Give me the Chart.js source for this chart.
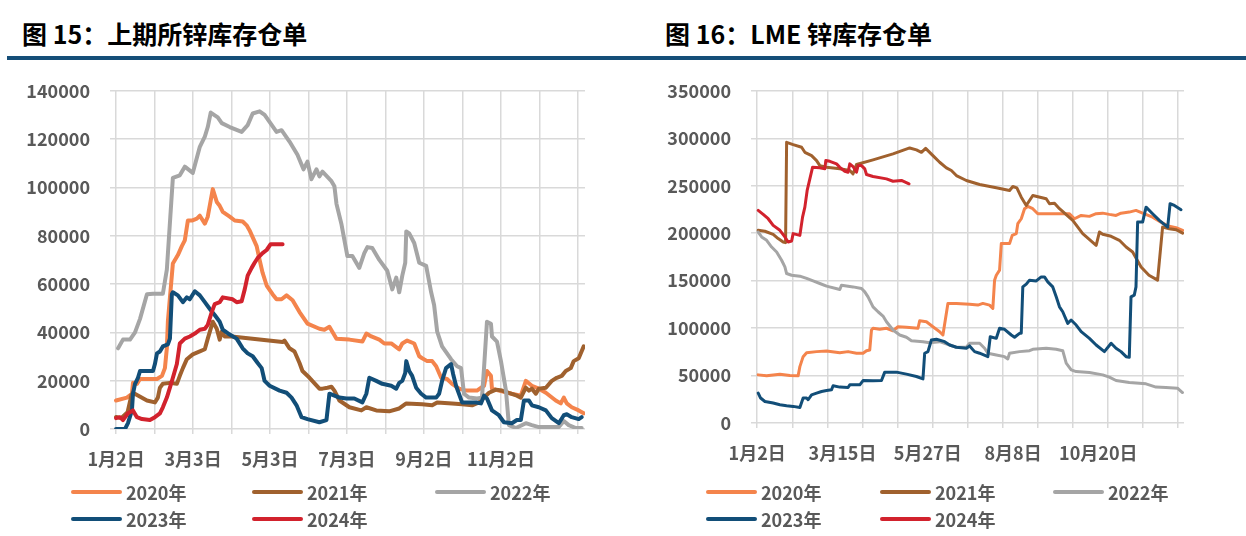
<!DOCTYPE html>
<html><head><meta charset="utf-8">
<script src="https://cdn.jsdelivr.net/npm/chart.js@4"></script>
<style>
body{margin:0;width:1246px;height:536px;background:#fff;position:relative;overflow:hidden;font-family:"Noto Sans CJK SC",sans-serif;}
.title{position:absolute;top:17px;font-size:25px;font-weight:700;color:#000;white-space:nowrap;line-height:32px}
.rule{position:absolute;left:7px;right:0;top:56px;height:4px;background:#154E78}
canvas{position:absolute}
.leg{position:absolute;display:flex;align-items:center;font-size:18px;font-weight:700;color:#595959;white-space:nowrap;line-height:24px;height:24px}
.leg i{display:inline-block;width:51px;height:4px;border-radius:2px;margin-right:4px}
</style></head>
<body>
<div class="title" style="left:22px">图 15：上期所锌库存仓单</div>
<div class="title" style="left:665px">图 16：LME 锌库存仓单</div>
<div class="rule"></div>
<canvas id="c1" width="620" height="420" style="left:0;top:60px"></canvas>
<canvas id="c2" width="626" height="420" style="left:620px;top:60px"></canvas>
<div id="legends"></div>
<script>
// ---------- data ----------
const seriesNames = ['2020年','2021年','2022年','2023年','2024年'];
const seriesColors = ['#F4844C','#A0612E','#A5A5A5','#124E78','#D2222D'];

// SHFE: x = days since 1月2日
const shfeGridDays = [0,30,60,90,120,150,180,210,240,270,300,330,360];
const shfeLabelDays = [0,60,120,180,240,300];
const shfeLabels = ['1月2日','3月3日','5月3日','7月3日','9月2日','11月2日'];
const shfe2020 = [[0,11800],[8.5,13000],[12.4,14600],[13.2,19100],[16.3,18700],[18.7,20700],[31.9,20700],[35.8,22000],[38.1,25200],[39.6,33400],[40.4,44400],[41.9,53700],[44.3,68500],[48.2,72000],[51.3,75700],[53.6,78100],[56,86300],[59.1,86300],[63,87100],[65.3,88300],[69.2,85000],[71.5,87900],[75.4,99300],[78.5,94000],[80.8,92400],[83.2,89900],[88.6,87900],[92.5,86300],[98.7,85900],[101.8,84300],[104.1,82200],[109.6,75700],[111.9,70000],[114.2,64700],[117.4,59400],[122,55800],[125.1,53700],[129,53700],[132.9,55300],[137.6,53300],[143,48400],[149.2,43600],[158.5,41500],[162.4,41100],[166.3,42300],[171.8,37400],[181.9,37000],[192,36200],[195.1,39500],[199,38300],[205.2,37000],[209.1,35400],[214.5,35400],[220.7,33000],[223.1,35400],[226.9,36600],[232.4,35400],[236.3,30100],[238.6,29300],[242.5,28100],[246.4,28100],[249.5,26000],[253.4,21200],[258,20700],[261.9,18700],[267.4,16700],[272.8,15900],[281.3,15900],[286.8,17900],[289.1,24000],[292.2,22000],[293,16700],[298.4,15900],[308.5,14600],[315.5,13800],[319.4,19900],[324.1,17900],[329.5,16700],[335,15000],[342.7,11800],[346.6,10600],[349,13000],[351.3,10600],[355.2,9000],[360.6,7700],[364.5,6500]];
const shfe2021 = [[0,5000],[4,4500],[9,7000],[12,14000],[13.2,15000],[24.1,11800],[30.3,11000],[32.6,13000],[34.2,17100],[36.5,18700],[42,19100],[47.4,18700],[49.7,22000],[52.1,25200],[55.2,28900],[59.8,30900],[65.3,32100],[69.2,33000],[71.5,37400],[75.4,44400],[78.5,41500],[80.8,37000],[82.4,40300],[84.7,38300],[90.2,38300],[129.8,36000],[131.3,36600],[135.2,33400],[139.1,32100],[143,27300],[145.3,24000],[150.8,21200],[158.5,16700],[160.9,16700],[164.8,17100],[167.9,17500],[170.2,15900],[174.1,11800],[181.9,9000],[191.2,7700],[195.1,9000],[202.8,7700],[212.9,7300],[220.7,8500],[226.2,10600],[238.6,10200],[246.4,9800],[250.3,11000],[261.9,10600],[269.7,10200],[277.5,9800],[282.9,11000],[290.7,15000],[296.1,16300],[300.8,15900],[307.8,14600],[312.4,13800],[315.5,13000],[319.4,17100],[321.8,15900],[324.1,16700],[327.2,14600],[329.5,16700],[335,17100],[339.6,19900],[343.5,21200],[347.4,22000],[350.5,24000],[354.4,25200],[356.7,28100],[360.6,29300],[364.5,34200]];
const shfe2022 = [[1.6,33400],[5.4,37000],[10.9,37000],[14.8,40000],[18.7,45600],[24.1,55800],[28.8,56000],[36.5,56000],[39.6,66000],[44.3,104000],[49.7,105000],[53.6,108600],[59.8,106000],[65.3,116800],[69.2,121000],[71.5,125000],[73.8,131000],[79.3,129000],[82.4,126600],[88.6,125000],[97.9,123000],[102.6,125800],[106.5,130600],[111.9,131500],[115.8,130000],[125.1,123000],[129,123700],[135.2,119000],[141.4,113500],[146.1,107500],[149.2,110700],[152.3,103400],[156.2,107500],[158.5,104600],[160.9,106500],[167.9,102600],[170.2,100500],[171.8,93200],[175.6,85000],[180.3,71600],[184.2,71600],[189.6,66700],[193.5,72800],[195.9,75300],[199.7,74900],[205.2,70000],[211.4,65500],[215.3,57800],[218.4,62700],[220.7,56600],[223.1,63500],[225.4,68800],[226.2,81800],[228.5,81000],[232.4,77000],[236.3,68800],[241.7,67500],[245.6,56600],[247.9,51300],[250.3,40300],[254.1,34200],[261.1,28900],[265.8,26000],[268.9,25200],[271.2,14600],[275.1,13000],[281.3,12600],[285.2,13000],[286.8,25200],[289.1,44400],[292.2,43600],[293,38300],[296.9,36200],[300,28100],[303.9,15900],[306.2,1600],[311.7,400],[319.4,2400],[324.1,1600],[329.5,800],[345.1,800],[349,3300],[352.8,1600],[358.3,400],[362.9,400]];
const shfe2023 = [[0,0],[7,0],[9.3,2400],[12.4,7700],[13.2,14600],[14.8,18700],[17.1,21200],[18.7,24000],[28.8,24000],[30.3,26900],[31.9,31300],[34.2,32100],[36.5,34200],[40.4,35000],[42,37400],[43.5,55800],[44.3,56600],[48.2,55300],[52.1,52500],[55.2,54500],[57.5,53700],[61.4,57000],[65.3,55300],[69.2,52500],[73.1,49700],[76.9,47200],[80.8,44400],[83.2,41100],[88.6,39100],[94,37400],[98.7,33400],[102.6,31300],[106.5,30100],[110.4,27300],[113.5,25200],[115.8,19900],[119.7,17900],[127.5,15900],[132.9,15000],[136.8,13000],[140.7,9800],[144.6,4900],[149.2,4100],[158.5,2800],[164,3700],[166.3,14600],[174.1,13000],[179.5,12600],[185.7,12600],[192,11000],[195.1,14600],[197.4,21200],[202.8,19900],[207.5,18700],[214.5,17900],[218.4,16700],[220.7,19100],[223.1,19900],[225.4,23200],[226.2,28100],[228.5,24000],[230.8,22000],[233.9,17100],[237.8,14600],[241.7,13000],[249.5,13000],[251.8,14600],[254.1,19900],[257.2,25200],[261.1,26900],[262.7,22800],[265,17900],[269.7,11000],[280.6,11000],[284.4,10600],[286.8,13800],[289.1,12600],[293,7700],[298.4,5700],[302.3,2800],[308.5,2400],[312.4,3700],[315.5,3700],[317.9,11800],[321.8,11800],[324.1,9800],[329.5,9000],[335,7700],[339.6,4500],[345.1,2400],[349,5700],[351.3,6100],[355.2,4900],[360.6,4100],[362.9,4900]];
const shfe2024 = [[0,4500],[3.1,4900],[5.4,3700],[9.3,6500],[13.2,7700],[16.3,4900],[20.2,4100],[26.4,3700],[30.3,4900],[34.2,6500],[36.5,9000],[39.6,13000],[42,17100],[44.3,21200],[47.4,26900],[49.7,35400],[53.6,37400],[57.5,38300],[61.4,39500],[65.3,41100],[69.2,41500],[71.5,43100],[74.6,48400],[76.9,51700],[80.8,52500],[83.2,54500],[90.9,53700],[94,52500],[97.9,52900],[100.3,57800],[102.6,63500],[105.7,66700],[108,68800],[110.4,70800],[114.2,72800],[117.4,74100],[120.5,76500],[125.1,76500],[129.8,76500]];

// LME: x = position index along the date axis
const lmeGridPos = [0,36.5,73,109.5,146,182.5,219,255.5,292,328.5,365,401.5,438];
const lmeLabelPos = [0,88.8,177.6,266.4,355.2];
const lmeLabels = ['1月2日','3月15日','5月27日','8月8日','10月20日'];
const lme2020 = [[1,50700],[9.8,49700],[23.6,51400],[34,50000],[42.6,49700],[44.4,59400],[47.8,69900],[51.4,74100],[61.8,75200],[72.2,75900],[86,74100],[94.6,75200],[103.4,73500],[110.2,73500],[113.8,76200],[117.2,77000],[119,98000],[120.6,99800],[127.6,98700],[134.6,99800],[141.4,97200],[146.6,101400],[155.4,100800],[167.4,99800],[169.2,107700],[176.2,106700],[183,101400],[190,96200],[193.4,92700],[198.6,126000],[207.4,126000],[221.2,125000],[229.8,124200],[235,126000],[242,124200],[245.4,120800],[247.2,150500],[249,155700],[252.4,161000],[254.2,189000],[262.8,189000],[265.6,197700],[269.8,199500],[271.4,210000],[275,215200],[278.4,225800],[281.8,228200],[287,225800],[292.2,220500],[307.8,220500],[325.2,220500],[330.4,215200],[337.4,218700],[346,217700],[353,220500],[359.8,221100],[366.7,219800],[373.7,218700],[378.9,221100],[387.5,222200],[394.5,224000],[401.4,221100],[411.8,216900],[422.2,210600],[429.2,207200],[436.2,205800],[443.1,203000]];
const lme2021 = [[1,203000],[8,202000],[16.6,198800],[21.8,194300],[27,190700],[29.5,190000],[30.6,295700],[37.4,293300],[46.2,290500],[49.6,285200],[56.6,281700],[61.8,276500],[65.2,271200],[72.2,269400],[86,267800],[96.4,266000],[99.8,262500],[103.4,272300],[120.6,277200],[141.4,283500],[158.8,289800],[165.8,287700],[171,285200],[175.4,289400],[183,281700],[190,274700],[197,268800],[202.2,266000],[207.4,260700],[217.8,255500],[231.6,251300],[249,247800],[262.8,245000],[266.2,249200],[270.4,247800],[275,237900],[280.2,229200],[287,239700],[301,236300],[304.4,231000],[309.6,231600],[314.8,225800],[328.6,213500],[339,199500],[353,187200],[356.4,201200],[359.8,198800],[368.6,196700],[377.2,192500],[384.2,185400],[391,180200],[399.8,164400],[408,155700],[417,150500],[422.2,206400],[429.2,204700],[436.2,203700],[443.1,200100]];
const lme2022 = [[1,201200],[4.6,196000],[9.8,192500],[15,185400],[20.2,180200],[25.4,171500],[28.8,164400],[30.6,157500],[35.8,155700],[44.4,154700],[51.4,152300],[58.2,149700],[65.2,147000],[72.2,144200],[86,140700],[87.8,145200],[99.8,143400],[108.6,141700],[112,138200],[115.4,132900],[120.6,122400],[125.8,117200],[131,112700],[134.6,106700],[141.4,98000],[148.4,92700],[155.4,90300],[160.6,86700],[172.6,85700],[179.6,84600],[190,85700],[200.4,82200],[207.4,79800],[217.8,79800],[221.2,84000],[231.6,84000],[236.8,78800],[240.2,73500],[249,71700],[257.6,69900],[261,67500],[262.8,73500],[273.2,75200],[283.6,76200],[287,77700],[301,78800],[311.4,77700],[318.2,76200],[321.8,63000],[327,56000],[332.2,54200],[346,53100],[359.8,50700],[366.7,48300],[373.7,44800],[387.5,42600],[404.9,41300],[415.3,37800],[425.7,37400],[437.7,36700],[442.9,32100]];
const lme2023 = [[1,31500],[3.5,26300],[8,22700],[16.6,21000],[23.6,19200],[30.6,18200],[37.4,17500],[44.4,16400],[47.8,26300],[51.4,26300],[53,24500],[56.6,29700],[61.8,31500],[67,33200],[72.2,34200],[77.4,35000],[79,39200],[86,37800],[94.6,37400],[96.4,40200],[106.8,40200],[110.2,44700],[120.6,44400],[129.4,44700],[132.8,53600],[145,53600],[155.4,51500],[165.8,49000],[172.6,46500],[174.4,73500],[177.8,75200],[181.4,87500],[186.6,88200],[195.2,85700],[200.4,82200],[207.4,79800],[217.8,78800],[221.2,81200],[226.4,75200],[231.6,73500],[240.2,69900],[242.7,90900],[249,89200],[252.4,99800],[257.6,98700],[264.6,92700],[268,90300],[273.2,94500],[275,94500],[276.6,143400],[280.2,146300],[283.6,150500],[290.6,149700],[295.8,153900],[299.2,153900],[302.6,148700],[307.8,143400],[311.4,132900],[314.8,122400],[318.2,117200],[323.4,105000],[326.9,108500],[332.2,103200],[337.4,96200],[346,89200],[353,82200],[361.6,75200],[368.6,84000],[373.7,78800],[378.9,75200],[384.2,69900],[387.5,69300],[389.3,132900],[392.7,134700],[394.5,143400],[396.2,211700],[401.4,211700],[405,227400],[411.8,220500],[418.8,213500],[427.5,206400],[430,231000],[434.5,229200],[441.4,224700]];
const lme2024 = [[1,224000],[6.2,219800],[11.4,215200],[16.6,208200],[23.6,203000],[28.8,196000],[32.2,190700],[35.8,191700],[37.4,199500],[44.4,197700],[47.2,216900],[49.6,227400],[52,245000],[54.8,257200],[57.6,269400],[65.2,268800],[70.4,267800],[71.4,276500],[75.6,275700],[82.6,273000],[86,269400],[91.2,265200],[94.6,264200],[96.4,273000],[99.8,270200],[103.4,264200],[105,271200],[108.6,271200],[112,267800],[113.8,261800],[120.6,259700],[134.6,257200],[141.4,254700],[150.2,255500],[158.1,252000]];

// ---------- charts ----------
const FONT = "'Noto Sans CJK SC', sans-serif";
const tickFont = {family: FONT, size: 18, weight: 'bold'};
const GRID = '#D9D9D9';

function ds(arr, i, w) {
  return {
    label: seriesNames[i], data: arr.map(p => ({x: p[0], y: p[1]})),
    borderColor: seriesColors[i], backgroundColor: seriesColors[i],
    borderWidth: w, pointRadius: 0, tension: 0, fill: false,
    borderJoinStyle: 'round', borderCapStyle: 'round', order: 5 - i
  };
}

function build(id, series, w, o) {
  return new Chart(document.getElementById(id), {
    type: 'line',
    data: {datasets: series.map((s, i) => ds(s, i, w))},
    options: {
      responsive: false, animation: false, events: [],
      layout: {padding: o.padding},
      plugins: {legend: {display: false}, tooltip: {enabled: false}},
      scales: {
        x: {
          type: 'linear', min: o.xmin, max: o.xmax, weight: 0,
          afterBuildTicks: s => { s.ticks = o.gridPos.map(v => ({value: v})); },
          afterFit: s => { s.height = 5; },
          ticks: {display: false},
          grid: {color: GRID, lineWidth: 1.5, drawTicks: true, tickLength: 5},
          border: {display: false}
        },
        xl: {
          type: 'linear', position: 'bottom', min: o.xmin, max: o.xmax, weight: 1,
          afterBuildTicks: s => { s.ticks = o.labelPos.map(v => ({value: v})); },
          afterFit: s => { s.height = 35; },
          ticks: {autoSkip: false, maxRotation: 0, minRotation: 0, padding: 14, font: tickFont, color: '#595959',
                  callback: (v, idx) => o.labels[idx] || ''},
          grid: {display: false, drawTicks: false},
          border: {display: false}
        },
        y: {
          min: 0, max: o.ymax,
          afterFit: s => { s.width = o.yw; },
          ticks: {stepSize: o.ystep, padding: 20, font: tickFont, color: '#595959', callback: v => String(v)},
          grid: {color: GRID, lineWidth: 1.5, drawTicks: false},
          border: {display: false}
        }
      }
    }
  });
}

build('c1', [shfe2020, shfe2021, shfe2022, shfe2023, shfe2024], 4, {
  padding: {left: 0, right: 35, top: 25, bottom: 11},
  xmin: -4.7, xmax: 365.5, gridPos: shfeGridDays, labelPos: shfeLabelDays, labels: shfeLabels,
  ymax: 140000, ystep: 20000, yw: 110
});
build('c2', [lme2020, lme2021, lme2022, lme2023, lme2024], 3, {
  padding: {left: 0, right: 62, top: 30, bottom: 17},
  xmin: -6.5, xmax: 444.5, gridPos: lmeGridPos, labelPos: lmeLabelPos, labels: lmeLabels,
  ymax: 350000, ystep: 50000, yw: 131
});

// ---------- legends (HTML) ----------
const legendLayouts = [
  {xs: [71, 252, 435], rows: [480, 507]},
  {xs: [706, 880, 1053], rows: [480, 507]}
];
const host = document.getElementById('legends');
legendLayouts.forEach(L => {
  seriesNames.forEach((name, i) => {
    const d = document.createElement('div');
    d.className = 'leg';
    d.style.left = L.xs[i % 3] + 'px';
    d.style.top = L.rows[Math.floor(i / 3)] + 'px';
    const sw = document.createElement('i');
    sw.style.background = seriesColors[i];
    d.appendChild(sw);
    d.appendChild(document.createTextNode(name));
    host.appendChild(d);
  });
});
</script>
</body></html>
